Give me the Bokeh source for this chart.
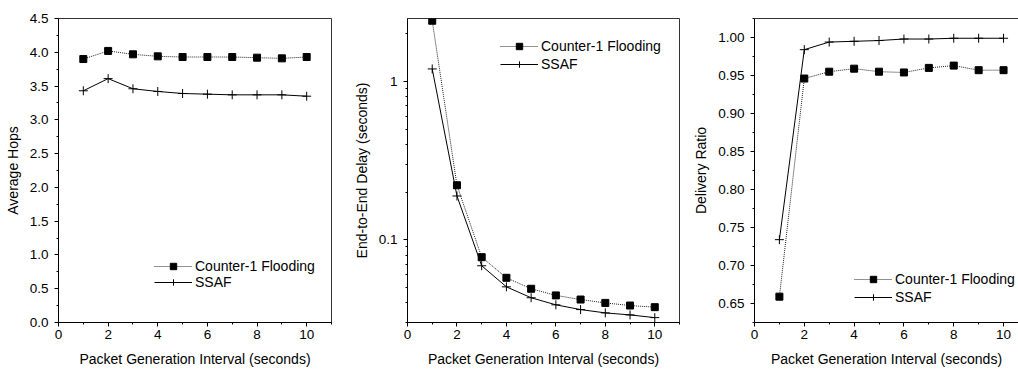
from bokeh.plotting import figure
from bokeh.models import (FixedTicker, PrintfTickFormatter, CustomJSTickFormatter,
                          Legend, LegendItem, Range1d, LinearAxis, ColumnDataSource)
from bokeh.layouts import row
from bokeh.embed import file_html
from bokeh.resources import INLINE

# ---------------- data ----------------
intervals = [1, 2, 3, 4, 5, 6, 7, 8, 9, 10]
series_names = ["Counter-1 Flooding", "SSAF"]

hops_counter1 = [3.90, 4.02, 3.97, 3.94, 3.93, 3.93, 3.93, 3.92, 3.91, 3.93]
hops_ssaf = [3.43, 3.61, 3.46, 3.42, 3.39, 3.38, 3.37, 3.37, 3.37, 3.35]

delay_counter1 = [2.42, 0.221, 0.0776, 0.0575, 0.049, 0.0445, 0.0419, 0.0399, 0.0384, 0.0375]
delay_ssaf = [1.20, 0.189, 0.0685, 0.0504, 0.0430, 0.0388, 0.0362, 0.0345, 0.0335, 0.0322]

ratio_counter1 = [0.659, 0.946, 0.955, 0.959, 0.955, 0.954, 0.960, 0.963, 0.957, 0.957]
ratio_ssaf = [0.734, 0.984, 0.994, 0.995, 0.996, 0.998, 0.998, 0.999, 0.999, 0.999]

x_label = "Packet Generation Interval (seconds)"
y_labels = ["Average Hops", "End-to-End Delay (seconds)", "Delivery Ratio"]

x_ticks = [0, 2, 4, 6, 8, 10]
x_minor = [1, 3, 5, 7, 9, 11]
hops_ticks = [0.0, 0.5, 1.0, 1.5, 2.0, 2.5, 3.0, 3.5, 4.0, 4.5]
hops_minor = [0.25, 0.75, 1.25, 1.75, 2.25, 2.75, 3.25, 3.75, 4.25]
delay_ticks = [0.1, 1]
delay_minor = [0.03, 0.04, 0.05, 0.06, 0.07, 0.08, 0.09,
               0.2, 0.3, 0.4, 0.5, 0.6, 0.7, 0.8, 0.9, 2]
ratio_ticks = [0.65, 0.70, 0.75, 0.80, 0.85, 0.90, 0.95, 1.00]
ratio_minor = [0.625, 0.675, 0.725, 0.775, 0.825, 0.875, 0.925, 0.975, 1.025]

FONT = "Liberation Sans"
H = 369


def style_axes(p):
    for ax in p.axis:
        ax.axis_line_color = "black"
        ax.axis_line_width = 1
        ax.major_tick_line_color = "black"
        ax.minor_tick_line_color = "black"
        ax.major_tick_in = 0
        ax.major_tick_out = 4
        ax.minor_tick_in = 0
        ax.minor_tick_out = 2
        ax.major_label_text_font = FONT
        ax.major_label_text_font_size = "13.5px"
        ax.major_label_text_color = "black"
        ax.axis_label_text_font = FONT
        ax.axis_label_text_font_size = "14px"
        ax.axis_label_text_font_style = "normal"
        ax.axis_label_text_color = "black"
    for ax in p.yaxis:
        ax.major_label_standoff = 6
        ax.axis_label_standoff = 6
    for ax in p.xaxis:
        ax.major_label_standoff = 3
        ax.axis_label_standoff = 9


def make_panel(width, bl, br, xmax, yrange, ylog, c1, ss, ylabel, yt, ym,
               yfmt, leg_loc, leg_spacing, outline=True):
    p = figure(width=width, height=H,
               x_range=Range1d(0, xmax), y_range=Range1d(*yrange),
               y_axis_type="log" if ylog else "linear",
               output_backend="svg", toolbar_location=None,
               min_border_left=bl, min_border_right=br,
               min_border_top=18, min_border_bottom=46)
    p.grid.visible = False
    p.background_fill_color = "white"
    p.border_fill_color = "white"
    p.outline_line_color = "#333333" if outline else None
    p.outline_line_width = 1

    p.xaxis.ticker = FixedTicker(ticks=x_ticks, minor_ticks=x_minor)
    p.yaxis.ticker = FixedTicker(ticks=yt, minor_ticks=ym)
    p.yaxis.formatter = yfmt
    p.xaxis.axis_label = x_label
    p.yaxis.axis_label = ylabel
    style_axes(p)

    if not outline:
        top = LinearAxis(ticker=FixedTicker(ticks=[]), axis_line_color="#333333",
                         major_tick_line_color=None, minor_tick_line_color=None,
                         major_label_text_font_size="0px", major_tick_out=0,
                         major_tick_in=0, major_label_standoff=0)
        p.add_layout(top, "above")

    src = ColumnDataSource(dict(x=intervals, c1=c1, ss=ss))
    l1 = p.line("x", "c1", source=src, line_color="#222222", line_width=1,
                line_dash="1 1")
    m1 = p.scatter("x", "c1", source=src, marker="square", size=7,
                   fill_color="black", line_color="black")
    l2 = p.line("x", "ss", source=src, line_color="black", line_width=1)
    m2 = p.scatter("x", "ss", source=src, marker="cross", size=9,
                   line_color="black", line_width=1)

    legend = Legend(items=[LegendItem(label=series_names[0], renderers=[l1, m1]),
                           LegendItem(label=series_names[1], renderers=[l2, m2])],
                    location=leg_loc, glyph_width=38, glyph_height=16,
                    label_height=16, label_standoff=3, spacing=leg_spacing,
                    padding=0, margin=0, border_line_color=None,
                    background_fill_alpha=0,
                    label_text_font=FONT, label_text_font_size="14px",
                    label_text_color="black")
    p.add_layout(legend)
    return p


p1 = make_panel(349, 58, 18, 11, (0, 4.5), False, hops_counter1, hops_ssaf,
                y_labels[0], hops_ticks, hops_minor,
                PrintfTickFormatter(format="%.1f"), (96, 32), 0)

p2 = make_panel(341, 58, 11, 11, (0.03, 2.5), True, delay_counter1, delay_ssaf,
                y_labels[1], delay_ticks, delay_minor,
                CustomJSTickFormatter(code="return tick < 0.5 ? tick.toFixed(1) : tick.toFixed(0);"),
                (93, 250), 2)

p3 = make_panel(328, 64, 0, 10.6, (0.625, 1.025), False, ratio_counter1, ratio_ssaf,
                y_labels[2], ratio_ticks, ratio_minor,
                PrintfTickFormatter(format="%.2f"), (100, 17), 2, outline=False)

layout = row(p1, p2, p3)

open("out.html", "w").write(file_html(layout, INLINE))
